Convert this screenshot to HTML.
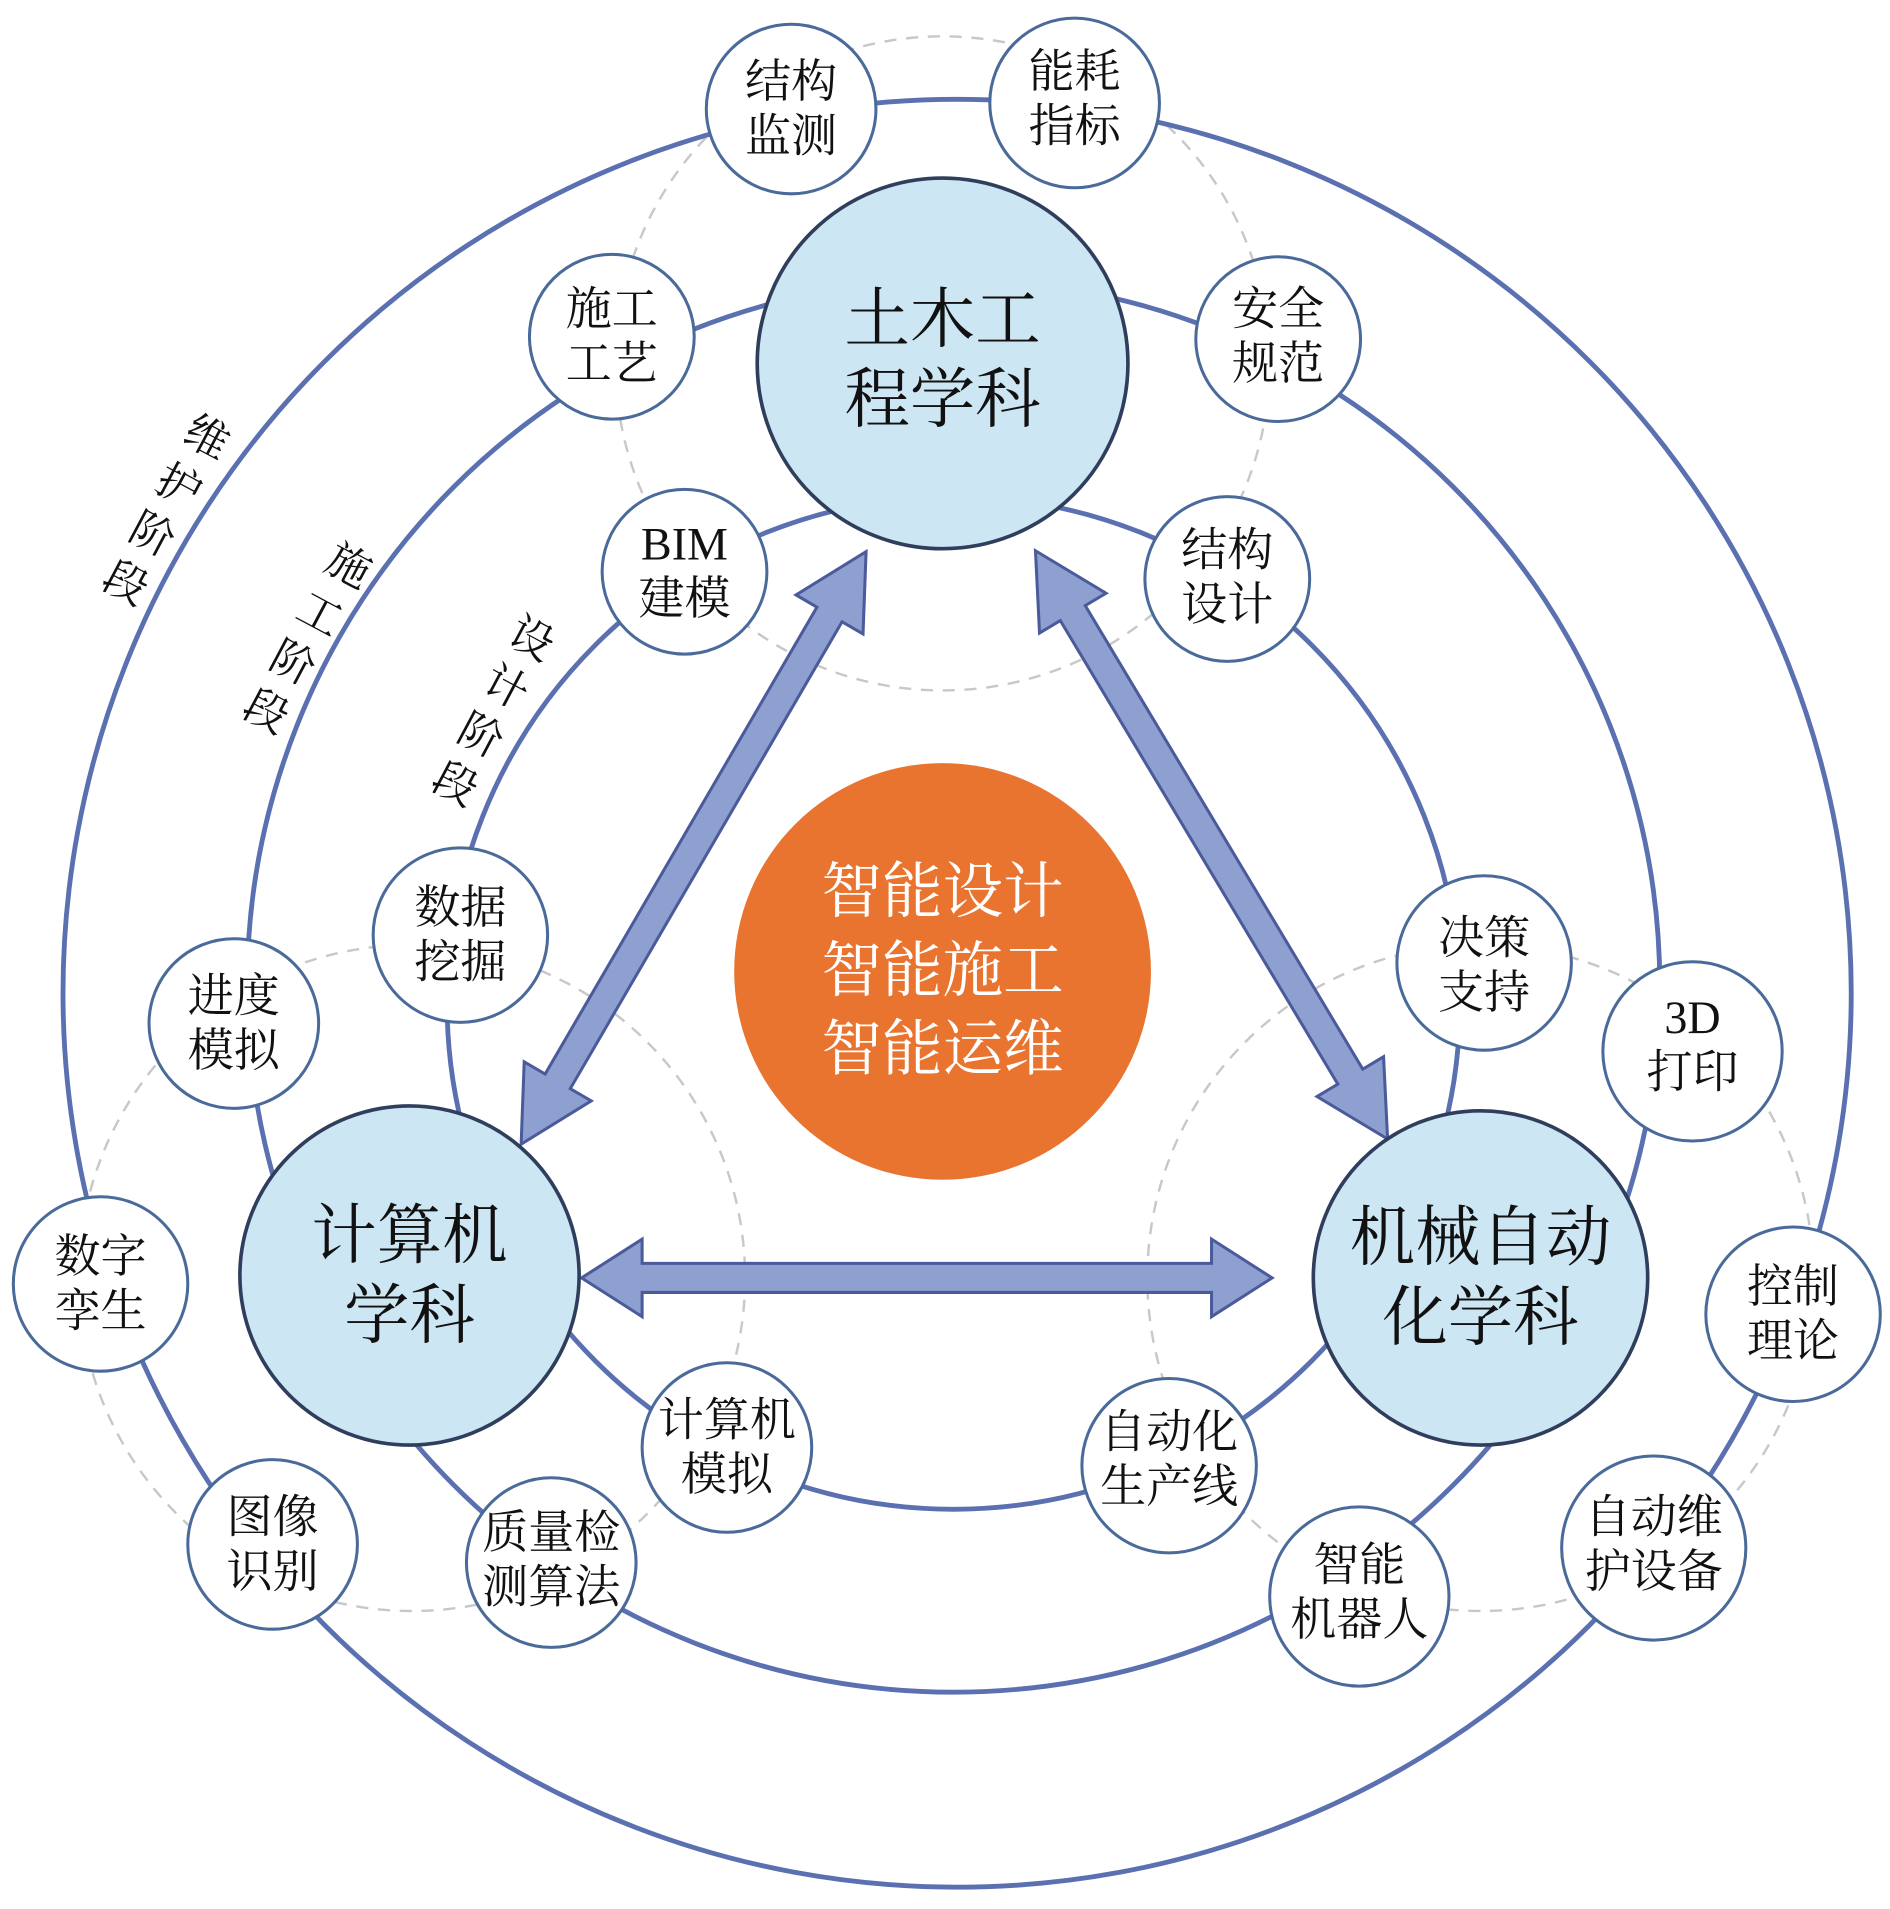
<!DOCTYPE html>
<html><head><meta charset="utf-8"><style>
html,body{margin:0;padding:0;background:#fff;}
svg{display:block;}
text{font-family:"Liberation Serif","Noto Serif CJK SC","Noto Sans CJK SC",serif;}
</style></head><body>
<svg width="1890" height="1909" viewBox="0 0 1560 1576" preserveAspectRatio="none" xmlns="http://www.w3.org/2000/svg">
<rect width="1560" height="1576" fill="#fff"/>
<!-- dashed rings -->
<g fill="none" stroke="#c8c8c8" stroke-width="2" stroke-dasharray="10 8">
<circle cx="778" cy="300" r="270"/>
<circle cx="340" cy="1055" r="275"/>
<circle cx="1222" cy="1055" r="275"/>
</g>
<!-- solid rings -->
<g fill="none" stroke="#5a70b0" stroke-width="4">
<circle cx="790" cy="820" r="738"/>
<circle cx="787" cy="814" r="583"/>
<circle cx="787" cy="828" r="418"/>
</g>
<!-- orange center -->
<circle cx="778" cy="802" r="172" fill="#e8742f"/>
<g fill="#fff" font-size="50" text-anchor="middle">
<text x="778" y="753">智能设计</text>
<text x="778" y="818">智能施工</text>
<text x="778" y="883">智能运维</text>
</g>
<!-- arrows -->
<g fill="#8ea0d0" stroke="#4b5a9a" stroke-width="2.5">
<g transform="translate(572.5,700) rotate(120.2)"><polygon points="-283,0 -223,-32 -223,-12 223,-12 223,-32 283,0 223,32 223,12 -223,12 -223,32"/></g>
<g transform="translate(1000,697.5) rotate(59.1)"><polygon points="-283,0 -223,-32 -223,-12 223,-12 223,-32 283,0 223,32 223,12 -223,12 -223,32"/></g>
<g transform="translate(765,1055)"><polygon points="-285,0 -235,-32 -235,-12 235,-12 235,-32 285,0 235,32 235,12 -235,12 -235,32"/></g>
</g>
<!-- discipline circles -->
<g fill="#cde6f4" stroke="#2f3e5c" stroke-width="3">
<circle cx="778" cy="300" r="153"/>
<circle cx="338" cy="1053" r="140"/>
<circle cx="1222" cy="1055" r="138"/>
</g>
<g fill="#111" font-size="54" text-anchor="middle">
<text x="778" y="282">土木工</text>
<text x="778" y="348">程学科</text>
<text x="338" y="1038">计算机</text>
<text x="338" y="1104">学科</text>
<text x="1222" y="1040">机械自动</text>
<text x="1222" y="1106">化学科</text>
</g>
<!-- small nodes -->
<g fill="#fff" stroke="#4a6a9a" stroke-width="2.5">
<circle cx="653" cy="90" r="70"/>
<circle cx="887" cy="85" r="70"/>
<circle cx="505" cy="278" r="68"/>
<circle cx="1055" cy="280" r="68"/>
<circle cx="565" cy="472" r="68"/>
<circle cx="1013" cy="478" r="68"/>
<circle cx="380" cy="772" r="72"/>
<circle cx="193" cy="845" r="70"/>
<circle cx="1225" cy="795" r="72"/>
<circle cx="1397" cy="868" r="74"/>
<circle cx="83" cy="1060" r="72"/>
<circle cx="1480" cy="1085" r="72"/>
<circle cx="600" cy="1195" r="70"/>
<circle cx="965" cy="1210" r="72"/>
<circle cx="225" cy="1275" r="70"/>
<circle cx="455" cy="1290" r="70"/>
<circle cx="1122" cy="1318" r="74"/>
<circle cx="1365" cy="1278" r="76"/>
</g>
<g fill="#111" font-size="38" text-anchor="middle">
<text x="653" y="80">结构</text><text x="653" y="125">监测</text>
<text x="887" y="72">能耗</text><text x="887" y="117">指标</text>
<text x="505" y="268">施工</text><text x="505" y="313">工艺</text>
<text x="1055" y="268">安全</text><text x="1055" y="313">规范</text>
<text x="565" y="462">BIM</text><text x="565" y="507">建模</text>
<text x="1013" y="467">结构</text><text x="1013" y="512">设计</text>
<text x="380" y="762">数据</text><text x="380" y="807">挖掘</text>
<text x="193" y="835">进度</text><text x="193" y="880">模拟</text>
<text x="1225" y="787">决策</text><text x="1225" y="832">支持</text>
<text x="1397" y="853">3D</text><text x="1397" y="898">打印</text>
<text x="83" y="1050">数字</text><text x="83" y="1095">孪生</text>
<text x="1480" y="1075">控制</text><text x="1480" y="1120">理论</text>
<text x="600" y="1185">计算机</text><text x="600" y="1230">模拟</text>
<text x="965" y="1195">自动化</text><text x="965" y="1240">生产线</text>
<text x="225" y="1265">图像</text><text x="225" y="1310">识别</text>
<text x="455" y="1278">质量检</text><text x="455" y="1323">测算法</text>
<text x="1122" y="1305">智能</text><text x="1122" y="1350">机器人</text>
<text x="1365" y="1265">自动维</text><text x="1365" y="1310">护设备</text>
</g>
<!-- stage labels -->
<g fill="#111" font-size="36" text-anchor="middle">
<text transform="translate(165,372) rotate(28)">维</text>
<text transform="translate(142,412) rotate(28)">护</text>
<text transform="translate(120,452) rotate(28)">阶</text>
<text transform="translate(98,492) rotate(28)">段</text>
<text transform="translate(282,478) rotate(28)">施</text>
<text transform="translate(258,518) rotate(28)">工</text>
<text transform="translate(236,558) rotate(28)">阶</text>
<text transform="translate(214,598) rotate(28)">段</text>
<text transform="translate(433,538) rotate(28)">设</text>
<text transform="translate(412,578) rotate(28)">计</text>
<text transform="translate(391,618) rotate(28)">阶</text>
<text transform="translate(370,658) rotate(28)">段</text>
</g>
</svg>
</body></html>
